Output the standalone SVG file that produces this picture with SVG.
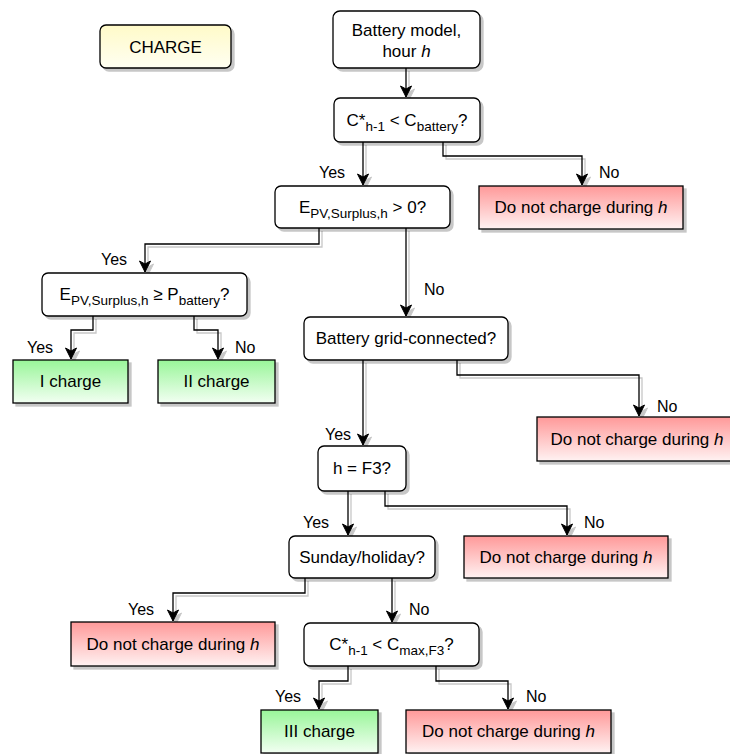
<svg xmlns="http://www.w3.org/2000/svg" width="730" height="754" viewBox="0 0 730 754">
<style>
  .n { stroke:#000; stroke-width:1.3; }
  .rd { fill:#fff; }
  .red { fill:url(#gRed); }
  .grn { fill:url(#gGrn); }
  .yel { fill:url(#gYel); }
  text { font-family:"Liberation Sans", Arial, sans-serif; fill:#000; }
  .t { font-size:17px; text-anchor:middle; }
  .lb { font-size:16px; }
  .s { font-size:13.5px; }
  .c { fill:none; stroke:#000; stroke-width:1.3; marker-end:url(#ar); }
</style>
<defs>
  <linearGradient id="gRed" x1="0" y1="0" x2="0" y2="1"><stop offset="0" stop-color="#ff9999"/><stop offset="1" stop-color="#fff2f2"/></linearGradient>
  <linearGradient id="gGrn" x1="0" y1="0" x2="0" y2="1"><stop offset="0" stop-color="#99f599"/><stop offset="1" stop-color="#f2fff2"/></linearGradient>
  <linearGradient id="gYel" x1="0" y1="0" x2="0" y2="1"><stop offset="0" stop-color="#fffac8"/><stop offset="1" stop-color="#fffff2"/></linearGradient>
  <filter id="sh" filterUnits="userSpaceOnUse" x="0" y="0" width="760" height="780">
    <feOffset in="SourceAlpha" dx="3" dy="3" result="o"/>
    <feFlood flood-color="#000" flood-opacity="0.22"/>
    <feComposite in2="o" operator="in" result="s"/>
    <feMerge><feMergeNode in="s"/><feMergeNode in="SourceGraphic"/></feMerge>
  </filter>
  <marker id="ar" markerUnits="userSpaceOnUse" markerWidth="14" markerHeight="14" viewBox="0 0 14 14" refX="12" refY="7" orient="auto">
    <path d="M1,1.5 L12,7 L1,12.5 L4,7 Z" fill="#000" stroke="#000" stroke-width="1"/>
  </marker>
</defs>

<g id="connectors" filter="url(#sh)">
  <path class="c" d="M406,68 V97"/>
  <path class="c" d="M363,142 V185"/>
  <path class="c" d="M443,142 V156 H582 V185"/>
  <path class="c" d="M319,228 V244 H145 V272"/>
  <path class="c" d="M406,228 V316"/>
  <path class="c" d="M93,316 V330 H71 V359"/>
  <path class="c" d="M194,316 V330 H218 V359"/>
  <path class="c" d="M363,360 V445"/>
  <path class="c" d="M457,360 V375 H639 V416"/>
  <path class="c" d="M348,491 V535"/>
  <path class="c" d="M385,491 V506 H567 V535"/>
  <path class="c" d="M305,578 V593 H173 V621"/>
  <path class="c" d="M392,578 V622"/>
  <path class="c" d="M348,666 V681 H319 V709"/>
  <path class="c" d="M436,666 V681 H508 V709"/>
</g>

<g id="labels">
  <text class="lb" x="319" y="178">Yes</text>
  <text class="lb" x="599" y="178">No</text>
  <text class="lb" x="101" y="265">Yes</text>
  <text class="lb" x="424" y="295">No</text>
  <text class="lb" x="27" y="353">Yes</text>
  <text class="lb" x="235" y="353">No</text>
  <text class="lb" x="325" y="440">Yes</text>
  <text class="lb" x="657" y="412">No</text>
  <text class="lb" x="303" y="528">Yes</text>
  <text class="lb" x="584" y="528">No</text>
  <text class="lb" x="128" y="615">Yes</text>
  <text class="lb" x="409" y="615">No</text>
  <text class="lb" x="275" y="702">Yes</text>
  <text class="lb" x="526" y="702">No</text>
</g>

<g id="charge">
  <rect class="n yel" x="100" y="25" width="131" height="43" rx="6" filter="url(#sh)"/>
  <text class="t" x="165.5" y="53">CHARGE</text>
</g>

<g id="start">
  <rect class="n rd" x="333" y="11" width="147" height="57" rx="7" filter="url(#sh)"/>
  <text class="t" x="406.5" y="36">Battery model,</text>
  <text class="t" x="406.5" y="57">hour <tspan font-style="italic">h</tspan></text>
</g>

<g id="q1">
  <rect class="n rd" x="334" y="98" width="146" height="44" rx="6" filter="url(#sh)"/>
  <text class="t" x="407" y="126">C*<tspan class="s" dy="5">h-1</tspan><tspan dy="-5"> &lt; C</tspan><tspan class="s" dy="5">battery</tspan><tspan dy="-5">?</tspan></text>
</g>

<g id="no1">
  <rect class="n red" x="479" y="186" width="204" height="43" filter="url(#sh)"/>
  <text class="t" x="581" y="213">Do not charge during <tspan font-style="italic">h</tspan></text>
</g>

<g id="q2">
  <rect class="n rd" x="275" y="186" width="175" height="42" rx="6" filter="url(#sh)"/>
  <text class="t" x="362.5" y="213">E<tspan class="s" dy="5">PV,Surplus,h</tspan><tspan dy="-5"> &gt; 0?</tspan></text>
</g>

<g id="q3">
  <rect class="n rd" x="42" y="273" width="205" height="43" rx="6" filter="url(#sh)"/>
  <text class="t" x="144.5" y="300">E<tspan class="s" dy="5">PV,Surplus,h</tspan><tspan dy="-5"> ≥ P</tspan><tspan class="s" dy="5">battery</tspan><tspan dy="-5">?</tspan></text>
</g>

<g id="c1">
  <rect class="n grn" x="13" y="360" width="115" height="43" filter="url(#sh)"/>
  <text class="t" x="70.5" y="387">I charge</text>
</g>

<g id="c2">
  <rect class="n grn" x="158" y="360" width="117" height="43" filter="url(#sh)"/>
  <text class="t" x="216.5" y="387">II charge</text>
</g>

<g id="q4">
  <rect class="n rd" x="304" y="317" width="204" height="43" rx="6" filter="url(#sh)"/>
  <text class="t" x="406" y="344">Battery grid-connected?</text>
</g>

<g id="no2">
  <rect class="n red" x="537" y="417" width="204" height="44" filter="url(#sh)"/>
  <text class="t" x="637" y="445">Do not charge during <tspan font-style="italic">h</tspan></text>
</g>

<g id="q5">
  <rect class="n rd" x="318" y="446" width="88" height="45" rx="6" filter="url(#sh)"/>
  <text class="t" x="362" y="474">h = F3?</text>
</g>

<g id="q6">
  <rect class="n rd" x="289" y="536" width="146" height="42" rx="6" filter="url(#sh)"/>
  <text class="t" x="362" y="563">Sunday/holiday?</text>
</g>

<g id="no3">
  <rect class="n red" x="464" y="536" width="204" height="42" filter="url(#sh)"/>
  <text class="t" x="566" y="563">Do not charge during <tspan font-style="italic">h</tspan></text>
</g>

<g id="no4">
  <rect class="n red" x="71" y="622" width="204" height="44" filter="url(#sh)"/>
  <text class="t" x="173" y="650">Do not charge during <tspan font-style="italic">h</tspan></text>
</g>

<g id="q7">
  <rect class="n rd" x="304" y="623" width="175" height="43" rx="6" filter="url(#sh)"/>
  <text class="t" x="391.5" y="650">C*<tspan class="s" dy="5">h-1</tspan><tspan dy="-5"> &lt; C</tspan><tspan class="s" dy="5">max,F3</tspan><tspan dy="-5">?</tspan></text>
</g>

<g id="c3">
  <rect class="n grn" x="261" y="710" width="117" height="43" filter="url(#sh)"/>
  <text class="t" x="319.5" y="737">III charge</text>
</g>

<g id="no5">
  <rect class="n red" x="406" y="710" width="205" height="43" filter="url(#sh)"/>
  <text class="t" x="508.5" y="737">Do not charge during <tspan font-style="italic">h</tspan></text>
</g>
</svg>
